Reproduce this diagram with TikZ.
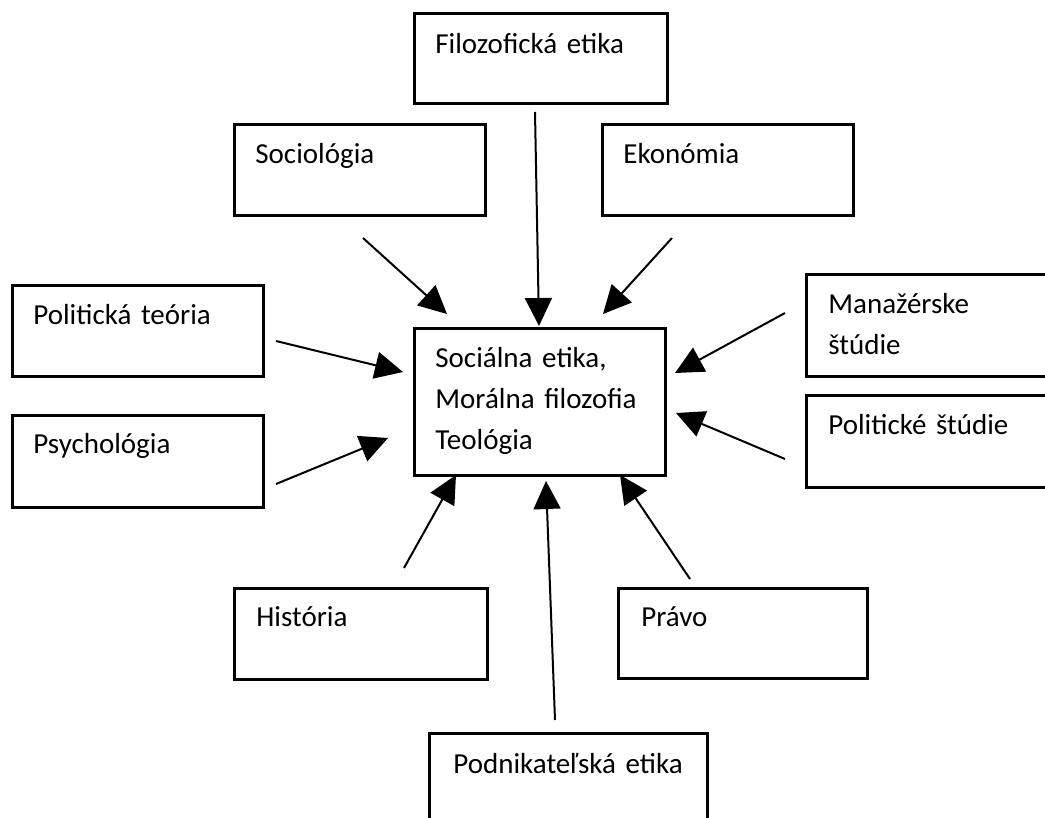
\documentclass[tikz,border=0pt]{standalone}
\usepackage{fontspec}
\setmainfont{Carlito}
\usetikzlibrary{arrows.meta}

\tikzset{
  box/.style={draw, line width=1.4pt, anchor=north west, inner xsep=10.5pt, inner ysep=0pt,
    text width=104.5pt, text height=19.5pt, text depth=26pt, align=left,
    font=\fontsize{14.5pt}{20.5pt}\selectfont},
  pil/.style={line width=1pt, -{Triangle[length=14pt,width=13.5pt]}}
}

\begin{document}
\begin{tikzpicture}[x=0.5pt, y=-0.5pt]
          \useasboundingbox (0,0) rectangle (1045,818);

          \node [box, text width=105.5pt, text height=20pt, text depth=25pt] (fil) at (413,12) {Filozofická etika}; % top box
          \node [box] (soc) at (233,123) {Sociológia};
          \node [box] (eko) at (601,123) {Ekonómia};

          \node [box] (pol) at (11,284) {Politická teória};
          \node [box, text height=19pt, text depth=27pt] (psy) at (11,414) {Psychológia};

          \node [box, text height=19.5pt, text depth=54pt] (soz) at (413,327) {Sociálna etika,\\Morálna filozofia\\Teológia}; % center box

          \node [box, text width=101.5pt, text depth=31.5pt, inner xsep=11pt] (man) at (805,273) {Manažérske\\štúdie};
          \node [box, text width=101.5pt, text depth=26.5pt, inner xsep=11pt] (plt) at (805,394) {Politické štúdie};

          \node [box, text height=19pt, text depth=26.5pt, inner xsep=11pt] (his) at (233,587) {História};
          \node [box, text height=19pt, inner xsep=11.5pt, text width=101.5pt] (pra) at (617,587) {Právo};
          \node [box, text width=115pt, text height=20pt, text depth=26.5pt, inner xsep=12pt] (pod) at (428,732) {Podnikateľská etika};

          % arrow ends
          \coordinate (filA) at (535,112);  \coordinate (filB) at (539,326);
          \coordinate (socA) at (363,238);  \coordinate (socB) at (447,314);
          \coordinate (ekoA) at (672,238);  \coordinate (ekoB) at (603,314);
          \coordinate (polA) at (276,341);  \coordinate (polB) at (403,372);
          \coordinate (psyA) at (276,484);  \coordinate (psyB) at (388,438);
          \coordinate (manA) at (785,313);  \coordinate (manB) at (675,373);
          \coordinate (pltA) at (785,459);  \coordinate (pltB) at (676,413);
          \coordinate (hisA) at (404,568);  \coordinate (hisB) at (456,475);
          \coordinate (praA) at (690,579);  \coordinate (praB) at (620,475);
          \coordinate (podA) at (555,720);  \coordinate (podB) at (546,481);

          \draw [pil] (filA) -- (filB);
          \draw [pil] (socA) -- (socB);
          \draw [pil] (ekoA) -- (ekoB);
          \draw [pil] (polA) -- (polB);
          \draw [pil] (psyA) -- (psyB);
          \draw [pil] (manA) -- (manB);
          \draw [pil] (pltA) -- (pltB);
          \draw [pil] (hisA) -- (hisB);
          \draw [pil] (praA) -- (praB);
          \draw [pil] (podA) -- (podB);
\end{tikzpicture}
\end{document}
